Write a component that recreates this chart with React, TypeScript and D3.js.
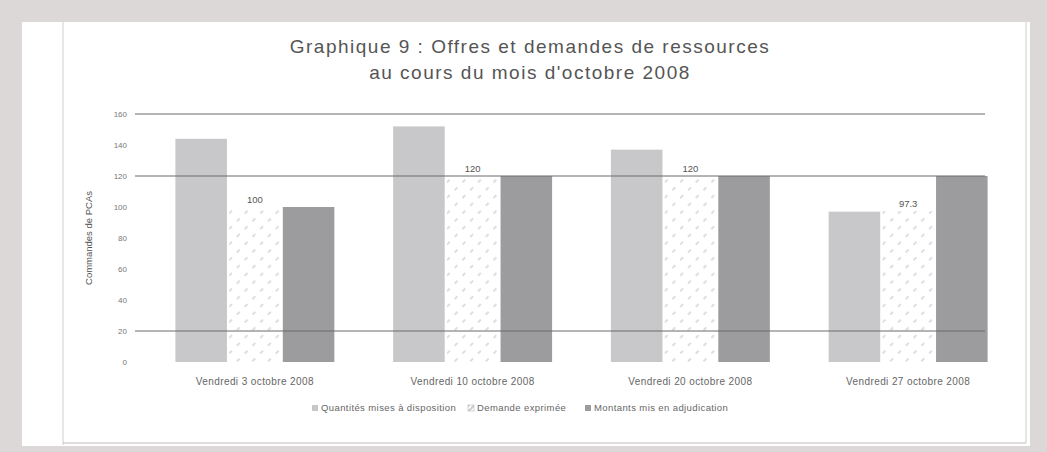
import React from "react";
import * as d3 from "d3";

const categories = [
  "Vendredi 3 octobre 2008",
  "Vendredi 10 octobre 2008",
  "Vendredi 20 octobre 2008",
  "Vendredi 27 octobre 2008",
];
const seriesNames = [
  "Quantités mises à disposition",
  "Demande exprimée",
  "Montants mis en adjudication",
];
const quantites = [144, 152, 137, 97];
const demande = [100, 120, 120, 97.3];
const montants = [100, 120, 120, 120];
const demandeLabels = ["100", "120", "120", "97.3"];
const yTicks = [0, 20, 40, 60, 80, 100, 120, 140, 160];
const gridValues = [20, 120, 160];
const titleLines = [
  "Graphique 9 : Offres et demandes de ressources",
  "au cours du mois d'octobre 2008",
];
const yTitle = "Commandes de PCAs";

const W = 1047;
const H = 452;
const FONT = "'Liberation Sans', Arial, sans-serif";

export default function App() {
  const x0 = d3.scaleBand().domain(categories).range([146, 1017]).paddingInner(0.27).paddingOuter(0.135);
  const x1 = d3.scaleBand().domain(["q", "d", "m"]).range([0, x0.bandwidth()]).paddingInner(0.04);
  const y = d3.scaleLinear().domain([0, 160]).range([362, 114]);

  const colors = { q: "#c8c8ca", d: "url(#hatch)", m: "#9c9c9f" };
  const series = [
    { key: "q", values: quantites },
    { key: "d", values: demande },
    { key: "m", values: montants },
  ];

  return (
    <svg width={W} height={H} style={{ position: "absolute", left: 0, top: 0, background: "#fff" }}>
      <defs>
        <pattern id="hatch" width="11" height="11" patternUnits="userSpaceOnUse" patternTransform="rotate(-45)">
          <rect width="11" height="11" fill="#fff" />
          <line x1="0" y1="5" x2="11" y2="5" stroke="#bdbdbd" strokeWidth="1" strokeDasharray="4 7" />
        </pattern>
        <pattern id="hatchLeg" width="4" height="4" patternUnits="userSpaceOnUse" patternTransform="rotate(-45)">
          <rect width="4" height="4" fill="#fff" />
          <line x1="0" y1="2" x2="4" y2="2" stroke="#999" strokeWidth="1" />
        </pattern>
      </defs>
      {/* frame */}
      <rect x={0} y={0} width={W} height={H} fill="#dcd8d8" />
      <rect x={22} y={22} width={1008} height={424} fill="#fff" />
      <line x1={63} y1={22} x2={63} y2={445} stroke="#cfcfcf" />
      <line x1={63} y1={443} x2={1026} y2={443} stroke="#bdbdbd" />
      <line x1={1026} y1={22} x2={1026} y2={443} stroke="#cfcfcf" />

      {/* title */}
      {titleLines.map((t, i) => (
        <text key={i} x={530} y={53 + i * 26} textAnchor="middle" fontFamily={FONT} fontSize={19} letterSpacing={1.5} fill="#555">
          {t}
        </text>
      ))}

      {/* y axis labels */}
      {yTicks.map((t) => (
        <text key={t} x={127} y={y(t) + 3} textAnchor="end" fontFamily={FONT} fontSize={8} fill="#777">
          {t}
        </text>
      ))}
      <text
        transform={`translate(92,${(y(0) + y(160)) / 2}) rotate(-90)`}
        textAnchor="middle"
        fontFamily={FONT}
        fontSize={9.5}
        fill="#555"
      >
        {yTitle}
      </text>

      {/* bars */}
      {series.map((s) =>
        s.values.map((v, i) => {
          const bx = (x0(categories[i]) || 0) + (x1(s.key) || 0);
          return (
            <rect
              key={s.key + i}
              x={bx}
              y={y(v)}
              width={x1.bandwidth()}
              height={y(0) - y(v)}
              fill={(colors as any)[s.key]}
            />
          );
        })
      )}

      {/* gridlines */}
      {gridValues.map((g) => (
        <line key={g} x1={135} x2={985} y1={y(g)} y2={y(g)} stroke="#6a6a6a" strokeWidth={1} />
      ))}

      {/* value labels */}
      {demande.map((v, i) => (
        <text
          key={i}
          x={(x0(categories[i]) || 0) + (x1("d") || 0) + x1.bandwidth() / 2}
          y={y(v) - 4}
          textAnchor="middle"
          fontFamily={FONT}
          fontSize={9.5}
          fill="#555"
        >
          {demandeLabels[i]}
        </text>
      ))}

      {/* category labels */}
      {categories.map((c) => (
        <text
          key={c}
          x={(x0(c) || 0) + x0.bandwidth() / 2}
          y={385}
          textAnchor="middle"
          fontFamily={FONT}
          fontSize={10}
          letterSpacing={0.4}
          fill="#666"
        >
          {c}
        </text>
      ))}

      {/* legend */}
      {seriesNames.map((n, i) => {
        const lx = [312, 468, 585][i];
        const fill = i === 0 ? "#c8c8ca" : i === 1 ? "url(#hatchLeg)" : "#9c9c9f";
        return (
          <g key={n}>
            <rect x={lx} y={405} width={6} height={6} fill={fill} stroke={i === 1 ? "#aaa" : "none"} strokeWidth={0.5} />
            <text x={lx + 9} y={411} fontFamily={FONT} fontSize={9.5} letterSpacing={0.4} fill="#666">
              {n}
            </text>
          </g>
        );
      })}
    </svg>
  );
}
